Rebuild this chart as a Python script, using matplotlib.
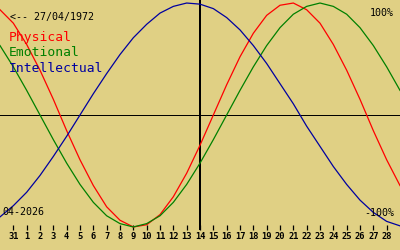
import matplotlib
matplotlib.use("Agg")
import matplotlib.pyplot as plt

# Biorhythm, born 27/04/1972, month 04-2026, today = 14
birth_label = "<-- 27/04/1972"
month_label = "04-2026"

# day positions (index 0 = 31 March, 14 = today)
days = list(range(-1, 30))
tick_pos = list(range(0, 29))
tick_labels = ["31"] + [str(d) for d in range(1, 29)]
today = 14

physical = [0.94, 0.82, 0.63, 0.40, 0.14, -0.14, -0.40, -0.63, -0.82, -0.94,
            -1.00, -0.98, -0.89, -0.73, -0.52, -0.27, 0.00, 0.27, 0.52, 0.73,
            0.89, 0.98, 1.00, 0.94, 0.82, 0.63, 0.40, 0.14, -0.14, -0.40, -0.63]
emotional = [0.62, 0.43, 0.22, 0.00, -0.22, -0.43, -0.62, -0.78, -0.90, -0.97,
             -1.00, -0.97, -0.90, -0.78, -0.62, -0.43, -0.22, 0.00, 0.22, 0.43,
             0.62, 0.78, 0.90, 0.97, 1.00, 0.97, 0.90, 0.78, 0.62, 0.43, 0.22]
intellectual = [-0.91, -0.81, -0.69, -0.54, -0.37, -0.19, 0.00, 0.19, 0.37, 0.54,
                0.69, 0.81, 0.91, 0.97, 1.00, 0.99, 0.95, 0.87, 0.76, 0.62,
                0.46, 0.28, 0.10, -0.10, -0.28, -0.46, -0.62, -0.76, -0.87, -0.95, -0.99]

series = [("Physical", physical, "#ff0000"),
          ("Emotional", emotional, "#008000"),
          ("Intellectual", intellectual, "#0000a0")]

bg = "#e0d084"
mono = "DejaVu Sans Mono"

fig = plt.figure(figsize=(4, 2.5), dpi=100, facecolor=bg)
ax = fig.add_axes([0, 20 / 250, 1, 230 / 250])
ax.set_facecolor(bg)
ax.set_xlim(-1, 29)
ax.set_ylim(-1.027, 1.027)
for s in ax.spines.values():
    s.set_visible(False)

ax.axhline(0, color="black", lw=0.72, antialiased=False)
ax.axvline(today, color="black", lw=1.44, antialiased=False)

for name, vals, col in series:
    ax.plot(days, vals, color=col, lw=0.9)

ax.set_yticks([])
ax.set_xticks(tick_pos)
ax.set_xticklabels(tick_labels, fontfamily=mono, fontsize=6.3, fontweight="bold")
ax.tick_params(axis="x", direction="in", length=3.6, width=0.9, color="black", pad=1.5)

# texts
for k, (name, vals, col) in enumerate(series):
    fig.text(9 / 400, 1 - (38 + 15 * k) / 250, name, fontsize=9.4, family=mono,
             color=col, va="center")
fig.text(10 / 400, 1 - 17 / 250, birth_label, fontsize=7.2, family=mono,
         color="black", va="center")
fig.text(394 / 400, 1 - 13 / 250, "100%", fontsize=7.2, family=mono,
         color="black", va="center", ha="right")
fig.text(394 / 400, 1 - 213 / 250, "-100%", fontsize=7.2, family=mono,
         color="black", va="center", ha="right")
fig.text(2 / 400, 1 - 212 / 250, month_label, fontsize=7.2, family=mono,
         color="black", va="center")

fig.savefig("out.png", dpi=100, facecolor=bg)
